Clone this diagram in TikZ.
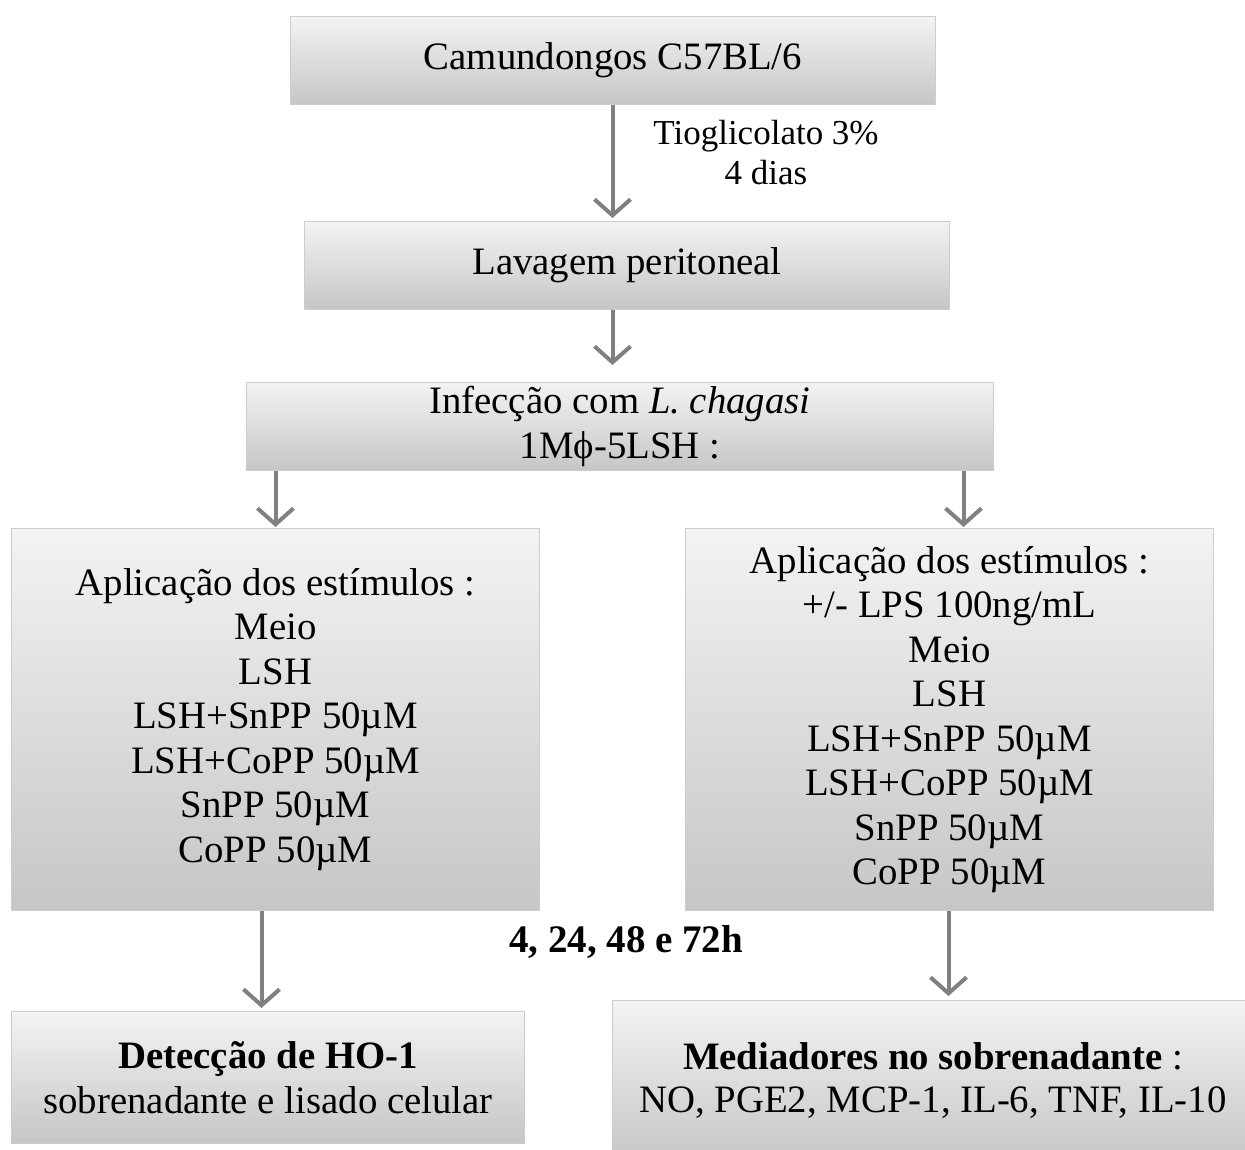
\documentclass[tikz,border=0pt]{standalone}
\usepackage{fontspec}
\setmainfont{Liberation Serif}
\usetikzlibrary{arrows.meta}
\definecolor{boxtop}{RGB}{243,243,243}
\definecolor{boxbot}{RGB}{198,198,198}
\definecolor{boxedge}{RGB}{205,205,205}
\definecolor{arrgray}{RGB}{128,128,128}
\tikzset{
  box/.style={draw=boxedge, line width=1pt, top color=boxtop, bottom color=boxbot,
    anchor=north west, inner sep=0pt, align=center,
    font=\fontsize{38.8}{44.5}\selectfont},
  arr/.style={draw=arrgray, line width=4pt,
    -{Straight Barb[length=16pt,width=36pt]}},
  lbl/.style={inner sep=0pt, align=center}
}
\begin{document}
\begin{tikzpicture}[x=1pt,y=-1pt]
\useasboundingbox (0,0) rectangle (1245,1149);
\node[box, minimum width=645pt, minimum height=88pt] (b1) at (290,16) {Camundongos C57BL/6};
\node[box, minimum width=645pt, minimum height=88pt] (b2) at (304,221) {Lavagem peritoneal};
\node[box, minimum width=747pt, minimum height=88pt] (b3) at (246,382) {Infecção com \textit{L. chagasi}\\1Mϕ-5LSH :};
\node[box, minimum width=528pt, minimum height=382pt] (b4l) at (11,528) {Aplicação dos estímulos :\\Meio\\LSH\\LSH+SnPP 50µM\\LSH+CoPP 50µM\\SnPP 50µM\\CoPP 50µM};
\node[box, minimum width=528pt, minimum height=382pt] (b4r) at (685,528) {Aplicação dos estímulos :\\+/- LPS 100ng/mL\\Meio\\LSH\\LSH+SnPP 50µM\\LSH+CoPP 50µM\\SnPP 50µM\\CoPP 50µM};
\node[box, minimum width=513pt, minimum height=132pt] (b5l) at (11,1011) {\textbf{Detecção de HO-1}\\sobrenadante e lisado celular};
\node[box, minimum width=640pt, minimum height=160pt, anchor=north west] (b5r) at (612,1000) {};
\node[lbl, font=\fontsize{38.8}{43}\selectfont] (t5r) at (933,1081) {\textbf{Mediadores no sobrenadante} :\\NO, PGE2, MCP-1, IL-6, TNF, IL-10};
\node[lbl, font=\fontsize{35}{40}\selectfont] (tio) at (766,153) {Tioglicolato 3\%\\4 dias};
\node[lbl, font=\fontsize{39}{43}\selectfont\bfseries] (hrs) at (626,942) {4, 24, 48 e 72h};
\draw[arr, shorten >=3pt] ([xshift=-0.5pt]b1.south) -- ([xshift=-0.5pt]b1.south |- b2.north);
\draw[arr, shorten >=17pt] ([xshift=-0.5pt]b1.south |- b2.south) -- ([xshift=-0.5pt]b1.south |- b3.north);
\draw[arr, shorten >=1pt] (b3.south -| b4l.north) -- (b4l.north);
\draw[arr, shorten >=1pt] ([xshift=14pt]b3.south -| b4r.north) -- ([xshift=14pt]b4r.north);
\draw[arr, shorten >=3pt] ([xshift=-6.5pt]b4l.south -| b5l.north) -- ([xshift=-6.5pt]b5l.north);
\draw[arr, shorten >=4pt] ([xshift=-1pt]b4r.south) -- ([xshift=-1pt]b4r.south |- b5r.north);
\end{tikzpicture}
\end{document}
